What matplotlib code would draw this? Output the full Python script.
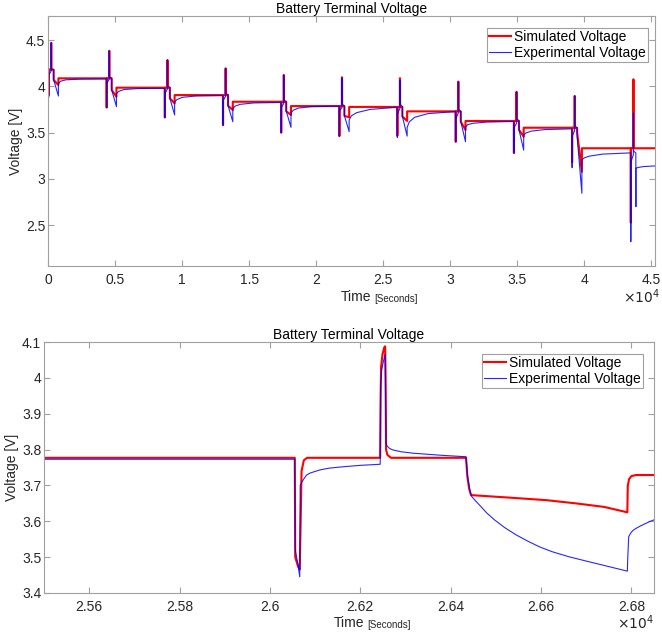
import matplotlib
matplotlib.use('Agg')
import matplotlib.pyplot as plt
from matplotlib.ticker import FuncFormatter, FixedLocator

plt.rcParams['font.family'] = ['Liberation Sans', 'DejaVu Sans']

# ---------------- data : time in units of 1e4 s ----------------
cycle_start = [0.004, 0.437, 0.871, 1.305, 1.739, 2.173, 2.6055, 3.041, 3.475, 3.909, 4.347]
end_time = 4.56
# pulse schedule inside one cycle (1e4 s): discharge pulse, charge pulse, long discharge
sched_dip = [0.0, 0.0012]
sched_spike = [0.0193, 0.0207]
sched_dis = [0.038, 0.0735]
rec_offsets = [0.0001, 0.016, 0.056, 0.156, 0.35]

# simulated voltage, per cycle
red_rest = [4.18, 4.086, 3.985, 3.905, 3.833, 3.786, 3.777, 3.729, 3.625, 3.552, 3.33, 3.33]
red_dip = [3.90, 3.77, 3.664, 3.58, 3.498, 3.462, 3.466, 3.40, 3.278, 3.18, 2.525]
red_spike = [4.47, 4.384, 4.284, 4.194, 4.122, 4.097, 4.087, 4.05, 3.94, 3.895, 4.075]
red_dis_start = [4.068, 3.96, 3.87, 3.79, 3.73, 3.68, 3.673, 3.617, 3.53, 3.50, None]
red_dis_end = [4.014, 3.887, 3.815, 3.743, 3.69, 3.665, 3.625, 3.527, 3.455, 3.076, None]

# experimental voltage, per cycle
blue_rest = [4.17, 4.08, 3.978, 3.90, 3.825, 3.785, 3.773, 3.725, 3.62, 3.54, 3.28]
blue_dip = [3.88, 3.77, 3.66, 3.58, 3.50, 3.46, 3.445, 3.40, 3.28, 3.12, 2.32]
blue_post_dip = [4.12, 4.03, 3.92, 3.845, 3.77, 3.73, 3.70, 3.65, 3.55, 3.46, 3.18]
blue_pre_spike = [4.165, 4.075, 3.97, 3.89, 3.815, 3.77, 3.759, 3.71, 3.60, 3.52, 3.26]
blue_spike = [4.47, 4.38, 4.28, 4.19, 4.12, 4.09, 4.064, 4.05, 3.94, 3.895, 3.71]
blue_post_spike = [4.19, 4.10, 4.00, 3.925, 3.85, 3.81, 3.808, 3.75, 3.65, 3.57, 3.30]
blue_pre_dis = [4.18, 4.09, 3.99, 3.91, 3.835, 3.785, 3.78, 3.73, 3.63, 3.55, 3.28]
blue_dis_top = [4.07, 3.96, 3.87, 3.79, 3.73, 3.68, 3.673, 3.617, 3.53, 3.45, 2.75]
blue_dis_min = [3.895, 3.78, 3.69, 3.617, 3.556, 3.51, 3.461, 3.40, 3.31, 2.843, 2.698]
blue_dis_end = [0.0735, 0.0735, 0.0735, 0.0735, 0.0735, 0.0735, 0.0735, 0.0735, 0.0735, 0.0735, 0.0385]
blue_rec = [
    [4.03, 4.055, 4.07, 4.077, 4.08],
    [3.92, 3.945, 3.965, 3.975, 3.978],
    [3.83, 3.855, 3.88, 3.895, 3.90],
    [3.755, 3.785, 3.805, 3.82, 3.825],
    [3.71, 3.74, 3.765, 3.78, 3.785],
    [3.635, 3.68, 3.715, 3.75, 3.773],
    [3.557, 3.615, 3.665, 3.705, 3.725],
    [3.56, 3.585, 3.60, 3.613, 3.62],
    [3.473, 3.495, 3.515, 3.532, 3.54],
    [3.203, 3.225, 3.245, 3.267, 3.28],
    [3.113, 3.122, 3.132, 3.14, 3.145],
]

# zoomed window (bottom panel)
zoom_red_t = [2.5500, 2.6055, 2.6056, 2.6062, 2.6066, 2.6068, 2.6070, 2.6075, 2.6082,
              2.6244, 2.6245, 2.6246, 2.6249, 2.6253, 2.6255, 2.6256, 2.6257, 2.6260, 2.6268,
              2.6434, 2.6437, 2.6441, 2.6445, 2.6530, 2.6611, 2.6677, 2.6740, 2.6791,
              2.6792, 2.6795, 2.6800, 2.6810, 2.6850]
zoom_red_v = [3.777, 3.777, 3.50, 3.475, 3.466, 3.60, 3.74, 3.770, 3.777,
              3.777, 3.95, 4.03, 4.065, 4.085, 4.088, 4.00, 3.80, 3.785, 3.777,
              3.777, 3.724, 3.69, 3.673, 3.666, 3.659, 3.650, 3.640, 3.625,
              3.70, 3.718, 3.726, 3.729, 3.729]
zoom_blue_t = [2.5500, 2.6055, 2.6056, 2.6062, 2.6066, 2.6067, 2.6070, 2.6075, 2.6081, 2.6088,
               2.6095, 2.6110, 2.6130, 2.6161, 2.6200, 2.6244,
               2.6245, 2.6247, 2.6251, 2.6255, 2.6256, 2.6257, 2.6259, 2.6265, 2.6272,
               2.6290, 2.6316, 2.6380, 2.6434,
               2.6437, 2.6442, 2.6446, 2.6455, 2.6467, 2.6480, 2.6497, 2.6520, 2.6545, 2.6570,
               2.6596, 2.6625, 2.6662, 2.6700, 2.6736, 2.6765, 2.6791,
               2.6792, 2.6794, 2.6797, 2.6800, 2.6805, 2.6810, 2.6820, 2.6830, 2.6840, 2.6850]
zoom_blue_v = [3.773, 3.773, 3.52, 3.48, 3.445, 3.70, 3.708, 3.718, 3.729, 3.734,
               3.737, 3.743, 3.748, 3.752, 3.756, 3.759,
               3.98, 4.02, 4.045, 4.066, 3.95, 3.82, 3.810, 3.803, 3.799,
               3.794, 3.790, 3.784, 3.780,
               3.73, 3.69, 3.670, 3.657, 3.641, 3.623, 3.604, 3.582, 3.562, 3.545,
               3.529, 3.515, 3.501, 3.489, 3.478, 3.469, 3.461,
               3.50, 3.557, 3.564, 3.570, 3.576, 3.580, 3.587, 3.593, 3.599, 3.604]

series_labels = ['Simulated Voltage', 'Experimental Voltage']
top_xticks = [0, 0.5, 1, 1.5, 2, 2.5, 3, 3.5, 4, 4.5]
top_yticks = [2.5, 3, 3.5, 4, 4.5]
bot_xticks = [2.56, 2.58, 2.60, 2.62, 2.64, 2.66, 2.68]
bot_yticks = [3.4, 3.5, 3.6, 3.7, 3.8, 3.9, 4.0, 4.1]


def build_red():
    t, v = [], []
    for k, T in enumerate(cycle_start):
        r, rn = red_rest[k], red_rest[k + 1]
        t += [T, T + 1e-4, T + sched_dip[1], T + sched_dip[1] + 2e-4,
              T + sched_spike[0], T + sched_spike[0] + 1e-4, T + sched_spike[1], T + sched_spike[1] + 2e-4]
        v += [r, red_dip[k], red_dip[k], r, r, red_spike[k], red_spike[k], r]
        if red_dis_start[k] is not None:
            t += [T + sched_dis[0], T + sched_dis[0] + 1e-4, T + sched_dis[1], T + sched_dis[1] + 1e-4]
            v += [r, red_dis_start[k], red_dis_end[k], rn]
    t.append(end_time)
    v.append(red_rest[-1])
    return t, v


def build_blue():
    t, v = [], []
    for k, T in enumerate(cycle_start):
        t += [T, T + 1e-4, T + sched_dip[1], T + sched_dip[1] + 1e-4,
              T + sched_spike[0], T + sched_spike[0] + 1e-4, T + sched_spike[1], T + sched_spike[1] + 2e-4,
              T + sched_dis[0], T + sched_dis[0] + 5e-4, T + blue_dis_end[k]]
        v += [blue_rest[k], blue_dip[k], blue_dip[k], blue_post_dip[k],
              blue_pre_spike[k], blue_spike[k], blue_spike[k], blue_post_spike[k],
              blue_pre_dis[k], blue_dis_top[k], blue_dis_min[k]]
        for off, val in zip(rec_offsets, blue_rec[k]):
            t.append(T + blue_dis_end[k] + off)
            v.append(val)
    return t, v


AX_GREY = '#a0a0a0'
TXT = '#262626'
fmt = FuncFormatter(lambda x, p: '%g' % round(x, 6))


def style(ax):
    for s in ax.spines.values():
        s.set_color(AX_GREY)
        s.set_linewidth(0.8)
    ax.tick_params(direction='in', length=4, width=0.8, color=AX_GREY,
                   labelcolor=TXT, labelsize=10, top=True, right=True)
    ax.tick_params(axis='x', pad=5)
    ax.tick_params(axis='y', pad=2)
    ax.xaxis.set_major_formatter(fmt)
    ax.yaxis.set_major_formatter(fmt)


def labels(ax, tx, ty, mx):
    ax.set_title('Battery Terminal Voltage', fontsize=10, pad=2, color='black')
    ax.set_ylabel('Voltage [V]', fontsize=10, color=TXT, labelpad=2)
    tt = ax.text(tx, ty, 'Time', transform=ax.transAxes, fontsize=10, color=TXT,
                 ha='left', va='center')
    ax.annotate('[Seconds]', xy=(1, 0), xycoords=tt, xytext=(2, 0), textcoords='offset points',
                fontsize=7, color=TXT, ha='left', va='bottom')
    ax.text(mx, ty, r'$\times10^{4}$', transform=ax.transAxes, fontsize=10, color=TXT,
            ha='right', va='center')


def legend(ax, anchor):
    lg = ax.legend(loc='upper right', bbox_to_anchor=anchor, fontsize=10, frameon=True,
                   fancybox=False, edgecolor=AX_GREY, framealpha=1, borderaxespad=0,
                   handlelength=1.6, handletextpad=0.2, borderpad=0.15, labelspacing=0.15)
    lg.get_frame().set_linewidth(0.8)
    for t in lg.get_texts():
        t.set_color('black')


fig = plt.figure(figsize=(6.62, 6.36), dpi=100)

ax1 = fig.add_axes([48 / 662, 1 - 266 / 636, 607 / 662, 250 / 636])
rt, rv = build_red()
bt, bv = build_blue()
ax1.plot(rt, rv, color='red', lw=1.5, label=series_labels[0])
ax1.plot(bt, bv, color='blue', lw=0.8, alpha=0.85, label=series_labels[1])
ax1.set_xlim(0, 4.528)
ax1.set_ylim(2.057, 4.76)
ax1.xaxis.set_major_locator(FixedLocator(top_xticks))
ax1.yaxis.set_major_locator(FixedLocator(top_yticks))
style(ax1)
labels(ax1, 0.483, -0.124, 1.008)
legend(ax1, (0.988, 0.952))

ax2 = fig.add_axes([44 / 662, 1 - 593 / 636, 610 / 662, 251 / 636])
ax2.plot(zoom_red_t, zoom_red_v, color='red', lw=1.5, label=series_labels[0])
ax2.plot(zoom_blue_t, zoom_blue_v, color='blue', lw=0.8, alpha=0.85, label=series_labels[1])
ax2.set_xlim(2.55, 2.685)
ax2.set_ylim(3.4, 4.1)
ax2.xaxis.set_major_locator(FixedLocator(bot_xticks))
ax2.yaxis.set_major_locator(FixedLocator(bot_yticks))
style(ax2)
labels(ax2, 0.475, -0.12, 1.0)
legend(ax2, (0.982, 0.952))

fig.savefig('out.png', dpi=100)
